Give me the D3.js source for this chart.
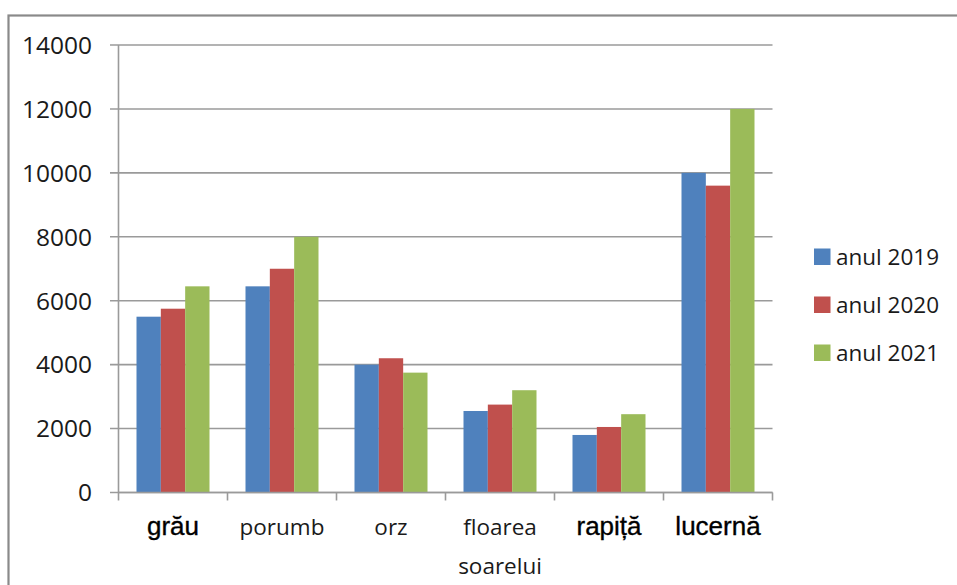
<!DOCTYPE html>
<html><head><meta charset="utf-8">
<script src="https://cdn.jsdelivr.net/npm/d3@7"></script>
<style>body{margin:0;background:#fff}svg{display:block}</style>
</head><body>
<script>
const categories = ["grău","porumb","orz","floarea soarelui","rapiță","lucernă"];
const boldCats = ["grău","rapiță","lucernă"];
const seriesNames = ["anul 2019","anul 2020","anul 2021"];
const v2019 = [5500, 6450, 4000, 2550, 1800, 10000];
const v2020 = [5750, 7000, 4200, 2750, 2050, 9600];
const v2021 = [6450, 8000, 3750, 3200, 2450, 12000];
const yTicks = [0,2000,4000,6000,8000,10000,12000,14000];
const colors = ["#4F81BD","#C0504D","#9BBB59"];
const seriesValues = [v2019, v2020, v2021];

const W = 957, H = 585;
const svg = d3.select("body").append("svg").attr("width", W).attr("height", H);
svg.append("rect").attr("x",8.5).attr("y",15.5).attr("width",W+10).attr("height",H+10)
  .attr("fill","#fff").attr("stroke","#8a8a8a").attr("stroke-width",2.2);

const x0 = 118.5, x1 = 772.5, yTop = 45, yBot = 492.5;
const x = d3.scaleBand().domain(categories).range([x0, x1]).paddingInner(0).paddingOuter(0);
const y = d3.scaleLinear().domain([0,14000]).range([yBot, yTop]);
const inner = d3.scaleBand().domain(seriesNames).range([18, x.bandwidth()-18]);

const g = svg.append("g");
g.selectAll("line.grid").data(yTicks).join("line").attr("class","grid")
  .attr("x1", 110).attr("x2", x1).attr("y1", d=>y(d)).attr("y2", d=>y(d))
  .attr("stroke","#9a9a9a").attr("stroke-width",1.6);

g.append("line").attr("x1",x0).attr("x2",x0).attr("y1",yTop).attr("y2",yBot)
  .attr("stroke","#9a9a9a").attr("stroke-width",1.6);

seriesNames.forEach((s,i)=>{
  g.append("g").selectAll("rect").data(categories).join("rect")
    .attr("x", c => x(c) + inner(s))
    .attr("width", inner.bandwidth())
    .attr("y", (c,j) => y(seriesValues[i][j]))
    .attr("height", (c,j) => yBot - y(seriesValues[i][j]))
    .attr("fill", colors[i]);
});

g.append("line").attr("x1",x0).attr("x2",x1).attr("y1",yBot).attr("y2",yBot)
  .attr("stroke","#9a9a9a").attr("stroke-width",1.6);
const tickXs = categories.map(c=>x(c)).concat([x1]);
g.selectAll("line.xt").data(tickXs).join("line").attr("class","xt")
  .attr("x1",d=>d).attr("x2",d=>d).attr("y1",yBot).attr("y2",yBot+8)
  .attr("stroke","#9a9a9a").attr("stroke-width",1.6);

g.selectAll("text.yl").data(yTicks).join("text").attr("class","yl")
  .attr("x", 92).attr("y", d=>y(d)).attr("dy","0.36em")
  .attr("text-anchor","end").attr("font-family","'Open Sans', sans-serif")
  .attr("font-size",24.5).attr("fill","#1a1a1a").text(d=>d);

categories.forEach(c=>{
  const cx = x(c) + x.bandwidth()/2;
  const isBold = boldCats.includes(c);
  const t = g.append("text").attr("x",cx).attr("y",535).attr("text-anchor","middle")
    .attr("fill", isBold ? "#000" : "#1a1a1a");
  if (isBold) {
    t.attr("font-family","'Liberation Sans', Arial, sans-serif").attr("font-size",26)
     .attr("stroke","#000").attr("stroke-width",0.35).text(c);
  } else {
    t.attr("font-family","'Open Sans', sans-serif").attr("font-size",22.5);
    const words = c.split(" ");
    words.forEach((w,k)=>{
      t.append("tspan").attr("x",cx).attr("dy", k===0?0:39).text(w);
    });
  }
});

const lg = svg.append("g");
seriesNames.forEach((s,i)=>{
  const cy = 257 + i*48;
  lg.append("rect").attr("x",814).attr("y",cy-8.5).attr("width",16.5).attr("height",16.5).attr("fill",colors[i]);
  lg.append("text").attr("x",836).attr("y",cy).attr("dy","0.36em")
    .attr("font-family","'Open Sans', sans-serif").attr("font-size",22.5).attr("fill","#1a1a1a").text(s);
});
</script>
</body></html>
